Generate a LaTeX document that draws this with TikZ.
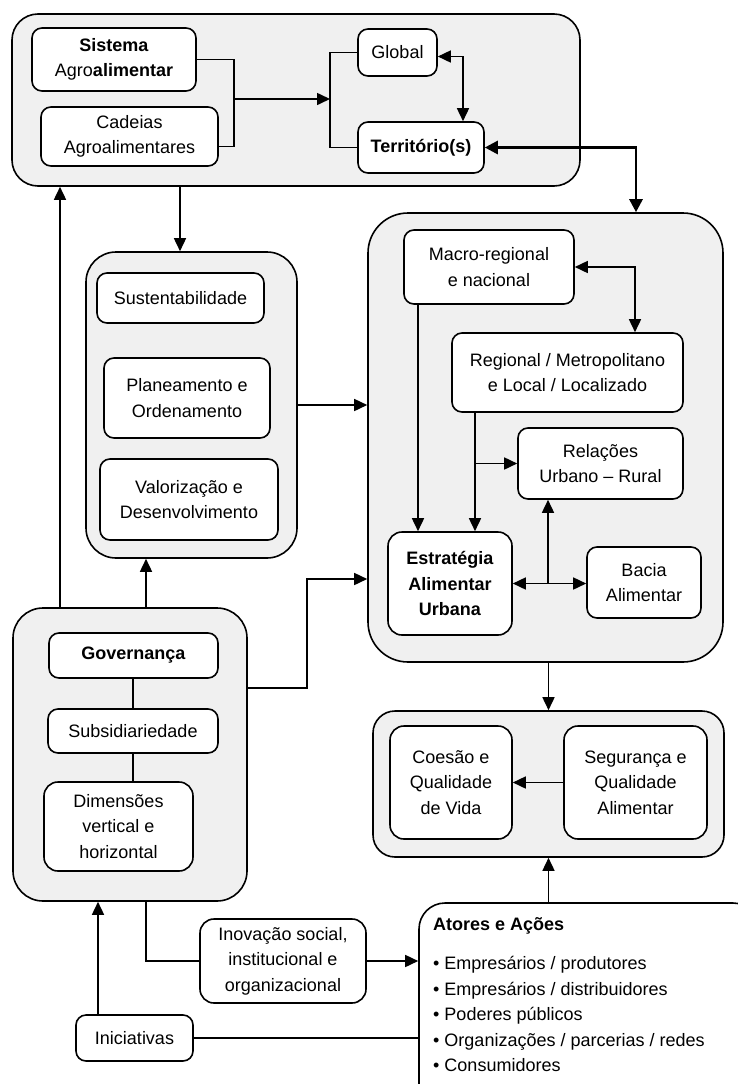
\documentclass[tikz,border=0pt]{standalone}
\usepackage{fontspec}
\setmainfont{Liberation Sans}
\usetikzlibrary{arrows.meta, calc, positioning}
\definecolor{boxgray}{HTML}{F0F0F0}

\begin{document}
\begin{tikzpicture}[
    x=1pt, y=-1pt,
    every node/.style={font=\fontsize{18}{25.5}\selectfont},
    sz/.style 2 args={minimum width=#1pt, minimum height=#2pt},
    outerbox/.style={draw, fill=boxgray, line width=1.6pt, rounded corners=#1},
    outerbox/.default=26pt,
    innerbox/.style={draw, fill=white, line width=1.6pt, rounded corners=10pt, align=center, inner sep=2pt},
    link/.style={line width=1.6pt},
    arr/.style={link, -{Triangle[length=13pt,width=12pt]}},
    dblarr/.style={link, {Triangle[length=13pt,width=12pt]}-{Triangle[length=13pt,width=12pt]}},
    bigarr/.style={line width=2.8pt, {Triangle[length=13pt,width=13pt]}-{Triangle[length=13pt,width=13pt]}}
]
    % page frame
    \fill[white] (0,0) rectangle (738,1084);
    \useasboundingbox (0,0) rectangle (738,1084);
    \clip (0,0) rectangle (738,1084);

    % top block: sistema / territorio
    \node[outerbox, sz={568}{172}] (top) at (296,100) {};
    \node[innerbox, sz={164}{63}] (sis) at (114,59.5) {\textbf{Sistema}\\Agro\textbf{alimentar}};
    \node[innerbox, sz={177}{59}] (cad) at (129.5,136.5) {Cadeias\\Agroalimentares};
    \node[innerbox, sz={79}{47}] (glo) at (397.5,52.5) {Global};
    \node[innerbox, sz={126}{51}] (ter) at (421,147.5) {\textbf{Território(s)}};

    % middle left block
    \node[outerbox=30pt, sz={211}{306}] (mid) at (191.5,405) {};
    \node[innerbox, sz={167}{50}] (sus) at (180.5,298) {Sustentabilidade};
    \node[innerbox, sz={166}{80}] (pla) at (187,398) {Planeamento e\\Ordenamento};
    \node[innerbox, sz={178}{81}] (val) at (189,499.5) {Valorização e\\Desenvolvimento};

    % right block: escalas
    \node[outerbox=40pt, sz={355}{449}] (rb) at (545.5,437.5) {};
    \node[innerbox, sz={170}{74}] (mac) at (489,267) {Macro-regional\\e nacional};
    \node[innerbox, sz={231}{79}] (reg) at (567.5,372.5) {Regional / Metropolitano\\e Local / Localizado};
    \node[innerbox, sz={165}{71}] (rel) at (600.5,463.5) {Relações\\Urbano – Rural};
    \node[innerbox, sz={124}{103}, rounded corners=14pt] (est) at (450,583.5) {\textbf{Estratégia}\\\textbf{Alimentar}\\\textbf{Urbana}};
    \node[innerbox, sz={114}{71}] (bac) at (644,582.5) {Bacia\\Alimentar};

    % governanca block
    \node[outerbox=30pt, sz={234}{293}] (gov) at (130,754.5) {};
    \node[innerbox, sz={169}{45}] (gv) at (133.5,655.5) {\textbf{Governança}};
    \node[innerbox, sz={170}{44}] (sub) at (133,731) {Subsidiariedade};
    \node[innerbox, sz={149}{89}, rounded corners=14pt] (dim) at (118.5,826.5) {Dimensões\\vertical e\\horizontal};

    % qualidade block
    \node[outerbox=22pt, sz={351}{146}] (ql) at (548.5,784) {};
    \node[innerbox, sz={122}{113}, rounded corners=14pt] (coe) at (451,782.5) {Coesão e\\Qualidade\\de Vida};
    \node[innerbox, sz={143}{113}, rounded corners=14pt] (seg) at (635.5,782.5) {Segurança e\\Qualidade\\Alimentar};

    % bottom row
    \node[innerbox, sz={166}{84}, rounded corners=14pt] (ino) at (283,961) {Inovação social,\\institucional e\\organizacional};
    \node[innerbox, sz={117}{46}] (ini) at (134.5,1038) {Iniciativas};
    \node[innerbox, sz={340}{210}, rounded corners=26pt] (act) at (589,1008) {};
    \node[anchor=north west, align=left, inner sep=0pt] (acttxt) at (433,917)
        {\textbf{Atores e Ações}\\[14pt]
         • Empresários / produtores\\
         • Empresários / distribuidores\\
         • Poderes públicos\\
         • Organizações / parcerias / redes\\
         • Consumidores};

    % connectors in top block
    \coordinate (j1) at (234,99);
    \coordinate (j2) at (330,99);
    \draw[link] (sis.east) -| (j1) |- ($(cad.east)+(0,10)$);
    \draw[arr] (j1) -- (j2);
    \draw[link] (glo.west) -| (j2) |- (ter.west);
    \draw[dblarr] ([yshift=-4pt]glo.east) -| ([xshift=42pt]ter.north);
    \draw[bigarr] (ter.east) -| ([xshift=90.5pt]rb.north);

    % between blocks
    \draw[arr] ([xshift=-11.5pt]mid.north |- top.south) -- ([xshift=-11.5pt]mid.north);
    \draw[arr] (mid.east) -- (mid.east -| rb.west);
    \draw[arr] ([xshift=-70pt]gov.north) -- ([xshift=-70pt]gov.north |- top.south);
    \draw[arr] ([xshift=16pt]gov.north) -- ([xshift=16pt]gov.north |- mid.south);
    \coordinate (g1) at (307,579);
    \draw[arr] ([yshift=66.5pt]gov.east) -| (g1) -- (g1 -| rb.west);

    % inside right block
    \draw[dblarr] (mac.east) -| ([xshift=67.5pt]reg.north);
    \draw[arr] ([xshift=-71pt]mac.south) -- ([xshift=-71pt]mac.south |- est.north);
    \draw[arr] ([xshift=-92.5pt]reg.south) -- ([xshift=-92.5pt]reg.south |- est.north);
    \draw[arr] ([xshift=-92.5pt]reg.south |- rel.west) -- (rel.west);
    \draw[dblarr] (est.east) -- (est.east -| bac.west);
    \draw[arr] ([xshift=-52.5pt]rel.south |- est.east) -- ([xshift=-52.5pt]rel.south);

    % governanca inner links
    \draw[link] (sub.north |- gv.south) -- (sub.north);
    \draw[link] (sub.south) -- (sub.south |- dim.north);

    % qualidade
    \draw[arr] (ql.north |- rb.south) -- (ql.north);
    \draw[arr] (seg.west) -- (coe.east);
    \draw[arr] (ql.south |- act.north) -- (ql.south);

    % bottom links
    \draw[link] ([xshift=16pt]gov.south) |- (ino.west);
    \draw[arr] (ino.east) -- (ino.east -| act.west);
    \draw[arr] ([xshift=-36.5pt]ini.north) -- ([xshift=-36.5pt]ini.north |- gov.south);
    \draw[link] (ini.east) -- (ini.east -| act.west);
\end{tikzpicture}
\end{document}
